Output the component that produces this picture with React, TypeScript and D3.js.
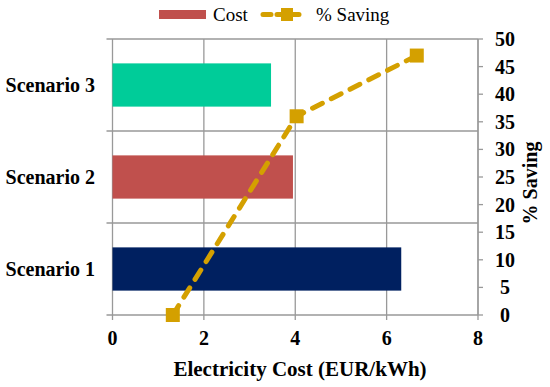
import { useEffect, useRef } from "react";
import * as d3 from "d3";

const scenarios = ["Scenario 1", "Scenario 2", "Scenario 3"];
const costValues = [6.32, 3.95, 3.47];
const barColors = ["#002060", "#C0504D", "#00CC99"];
const savingCost = [1.32, 4.03, 6.66];
const savingValues = [0, 36, 47];
const xTicks = [0, 2, 4, 6, 8];
const y2Ticks = [0, 5, 10, 15, 20, 25, 30, 35, 40, 45, 50];

const FONT = "Liberation Serif, DejaVu Serif, serif";
const GOLD = "#D4A000";

const App = () => {
  const ref = useRef<SVGSVGElement | null>(null);

  useEffect(() => {
    const svg = d3.select(ref.current);
    svg.selectAll("*").remove();

    const left = 112.5;
    const right = 478;
    const top = 39;
    const bottom = 315;

    const x = d3.scaleLinear().domain([0, 8]).range([left, right]);
    const yBand = d3.scaleBand().domain(scenarios).range([bottom, top]).paddingInner(0).paddingOuter(0);
    const y2 = d3.scaleLinear().domain([0, 50]).range([bottom, top]);

    // vertical grid
    svg
      .append("g")
      .selectAll("line")
      .data(xTicks)
      .enter()
      .append("line")
      .attr("x1", (d) => x(d))
      .attr("x2", (d) => x(d))
      .attr("y1", top)
      .attr("y2", bottom + 5)
      .attr("stroke", "#999")
      .attr("stroke-width", 1.3);

    // horizontal band boundaries
    const bounds = [bottom, ...scenarios.map((s) => yBand(s)!)];
    svg
      .append("g")
      .selectAll("line")
      .data(bounds)
      .enter()
      .append("line")
      .attr("x1", left - 6)
      .attr("x2", right)
      .attr("y1", (d) => d)
      .attr("y2", (d) => d)
      .attr("stroke", "#999")
      .attr("stroke-width", 1.3);

    // bars
    const barH = yBand.bandwidth() * 0.47;
    svg
      .append("g")
      .selectAll("rect")
      .data(scenarios)
      .enter()
      .append("rect")
      .attr("x", x(0))
      .attr("y", (d) => yBand(d)! + (yBand.bandwidth() - barH) / 2)
      .attr("width", (_, i) => x(costValues[i]) - x(0))
      .attr("height", barH)
      .attr("fill", (_, i) => barColors[i]);

    // right axis
    svg
      .append("line")
      .attr("x1", right)
      .attr("x2", right)
      .attr("y1", top)
      .attr("y2", bottom)
      .attr("stroke", "#999")
      .attr("stroke-width", 1.3);
    svg
      .append("g")
      .selectAll("line")
      .data(y2Ticks)
      .enter()
      .append("line")
      .attr("x1", right)
      .attr("x2", right + 5)
      .attr("y1", (d) => y2(d))
      .attr("y2", (d) => y2(d))
      .attr("stroke", "#999")
      .attr("stroke-width", 1.3);

    const bold = (sel: d3.Selection<any, any, any, any>, size: number) =>
      sel.style("font-family", FONT).style("font-weight", "bold").style("font-size", `${size}px`);

    svg
      .append("g")
      .selectAll("text")
      .data(y2Ticks)
      .enter()
      .append("text")
      .attr("x", 505)
      .attr("y", (d) => y2(d))
      .attr("dy", "0.35em")
      .attr("text-anchor", "middle")
      .call(bold, 20)
      .text((d) => d);

    // x tick labels
    svg
      .append("g")
      .selectAll("text")
      .data(xTicks)
      .enter()
      .append("text")
      .attr("x", (d) => x(d))
      .attr("y", 345)
      .attr("text-anchor", "middle")
      .call(bold, 20)
      .text((d) => d);

    // category labels
    svg
      .append("g")
      .selectAll("text")
      .data(scenarios)
      .enter()
      .append("text")
      .attr("x", 95)
      .attr("y", (d) => yBand(d)! + yBand.bandwidth() / 2)
      .attr("dy", "0.35em")
      .attr("text-anchor", "end")
      .call(bold, 20)
      .text((d) => d);

    // axis titles
    svg
      .append("text")
      .attr("x", 300)
      .attr("y", 376)
      .attr("text-anchor", "middle")
      .call(bold, 21)
      .text("Electricity Cost (EUR/kWh)");
    svg
      .append("text")
      .attr("transform", `translate(537, 183) rotate(-90)`)
      .attr("text-anchor", "middle")
      .call(bold, 20)
      .text("% Saving");

    // saving line
    const pts = savingCost.map((c, i) => [x(c), y2(savingValues[i])] as [number, number]);
    svg
      .append("path")
      .attr("d", d3.line()(pts))
      .attr("fill", "none")
      .attr("stroke", GOLD)
      .attr("stroke-width", 5)
      .attr("stroke-linecap", "round")
      .attr("stroke-dasharray", "11 10");
    svg
      .append("g")
      .selectAll("rect")
      .data(pts)
      .enter()
      .append("rect")
      .attr("x", (d) => d[0] - 7)
      .attr("y", (d) => d[1] - 7)
      .attr("width", 14)
      .attr("height", 14)
      .attr("fill", GOLD);

    // legend
    const lg = svg.append("g");
    lg.append("rect").attr("x", 159).attr("y", 10).attr("width", 47).attr("height", 9).attr("fill", "#C0504D");
    lg.append("text")
      .attr("x", 213)
      .attr("y", 21)
      .style("font-family", FONT)
      .style("font-size", "19px")
      .text("Cost");
    lg.append("line")
      .attr("x1", 263)
      .attr("x2", 300)
      .attr("y1", 14.5)
      .attr("y2", 14.5)
      .attr("stroke", GOLD)
      .attr("stroke-width", 5)
      .attr("stroke-linecap", "round")
      .attr("stroke-dasharray", "8 6");
    lg.append("rect").attr("x", 281).attr("y", 8).attr("width", 12).attr("height", 13).attr("fill", GOLD);
    lg.append("text")
      .attr("x", 316)
      .attr("y", 21)
      .style("font-family", FONT)
      .style("font-size", "19px")
      .text("% Saving");
  }, []);

  return (
    <svg
      ref={ref}
      width={550}
      height={387}
      style={{ position: "absolute", left: 0, top: 0, background: "#fff" }}
    />
  );
};

export default App;
